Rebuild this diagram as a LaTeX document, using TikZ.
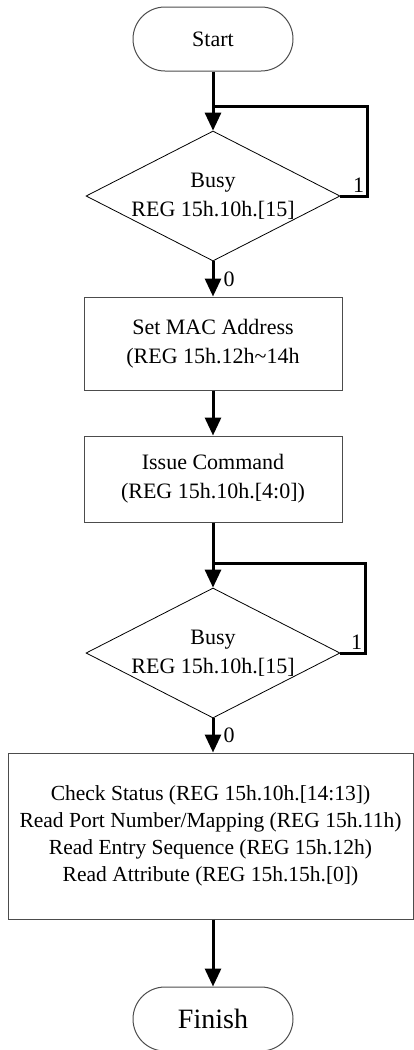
\documentclass[tikz,border=0pt]{standalone}
\usepackage{fontspec}
\setmainfont{Liberation Serif}
\usetikzlibrary{arrows.meta}
\usetikzlibrary{shapes.geometric}

\begin{document}
\begin{tikzpicture}[x=1pt,y=-1pt,
 font=\fontsize{22}{29}\selectfont,
 term/.style={draw=black!70, line width=1pt, rounded corners=32pt, minimum width=160pt, minimum height=64pt},
 proc/.style={draw=black!70, line width=1pt, minimum width=258pt, align=center},
 decis/.style={draw, diamond, line width=0.8pt, minimum width=254pt, minimum height=130pt, inner sep=0pt},
 flow/.style={line width=3pt, -{Triangle[length=18pt,width=16pt]}},
 loopline/.style={line width=3pt}]
\useasboundingbox (0,0) rectangle (414,1050);
\node[term] (start) at (213,39) {Start};
\node[decis] (busyA) at (213,196) {};
\node[align=center] (busyAtxt) at (busyA) {Busy\\REG 15h.10h.[15]};
\node[proc, minimum height=93pt] (setmac) at (213,343.5) {Set MAC Address\\(REG 15h.12h\textasciitilde 14h};
\node[proc, minimum height=86pt] (issue) at (213,479) {Issue Command\\(REG 15h.10h.[4:0])};
\node[decis] (busyB) at (213,653) {};
\node[align=center] (busyBtxt) at (busyB) {Busy\\REG 15h.10h.[15]};
\node[proc, minimum width=405pt, minimum height=166pt, font=\fontsize{21.5}{27}\selectfont] (check) at (210.5,836) {Check Status (REG 15h.10h.[14:13])\\Read Port Number/Mapping (REG 15h.11h)\\Read Entry Sequence (REG 15h.12h)\\Read Attribute (REG 15h.15h.[0])};
\node[term, font=\fontsize{28}{34}\selectfont] (finish) at (213,1019) {Finish};
\coordinate (joinA) at (213,106);
\coordinate (joinB) at (213,563);
\draw[flow] (start) -- (busyA);
\draw[loopline] (busyA.east) -- ++(27,0) coordinate (cornerA) |- (joinA);
\node[above left, inner sep=3pt] at (cornerA) {1};
\draw[flow] (busyA) -- node[right, inner sep=9pt] {0} (setmac);
\draw[flow] (setmac) -- (issue);
\draw[flow] (issue) -- (busyB);
\draw[loopline] (busyB.east) -- ++(25,0) coordinate (cornerB) |- (joinB);
\node[above left, inner sep=3pt] at (cornerB) {1};
\draw[flow] (busyB) -- node[right, inner sep=9pt] {0} (busyB |- check.north);
\draw[flow] (finish |- check.south) -- (finish);
\end{tikzpicture}
\end{document}
